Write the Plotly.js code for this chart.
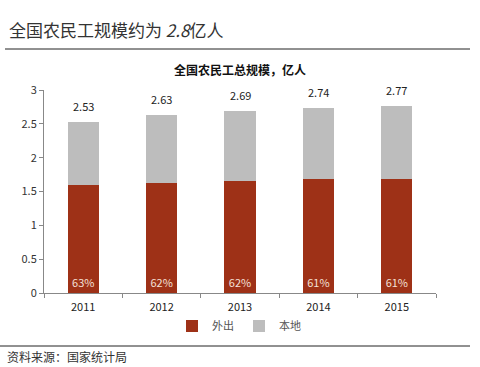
<!DOCTYPE html>
<html><head><meta charset="utf-8">
<script src="https://cdn.plot.ly/plotly-3.0.1.min.js"></script>
<style>html,body{margin:0;padding:0;background:#fff;}#c{width:480px;height:367px;}</style>
</head><body><div id="c"></div>
<script>
const years = ['2011','2012','2013','2014','2015'];
const outgoing = [1.59, 1.63, 1.66, 1.68, 1.69];
const local = [0.94, 1.00, 1.03, 1.06, 1.08];
const totals = ['2.53','2.63','2.69','2.74','2.77'];
const shares = ['63%','62%','62%','61%','61%'];
const FONT = '"Noto Sans CJK SC", "Noto Sans", sans-serif';
const W = 480, H = 367, L = 44, R = 44, T = 90, B = 74;
const pw = W - L - R, ph = H - T - B;
const px = x => (x - L) / pw;
const py = y => (H - B - y) / ph;

const traces = [
  {type:'bar', name:'外出', x:years, y:outgoing, marker:{color:'#9e3117'},
   text:shares, textposition:'inside', insidetextanchor:'start',
   textfont:{color:'#f4e0d8', size:11, family:FONT}, hoverinfo:'none'},
  {type:'bar', name:'本地', x:years, y:local, marker:{color:'#bdbdbd'}, hoverinfo:'none'}
];
const annotations = years.map((yr,i)=>({
  x: i, y: outgoing[i] + local[i], xref:'x', yref:'y', text: totals[i],
  showarrow:false, yshift:16, font:{size:11, color:'#222', family:FONT}
}));
annotations.push(
  {xref:'paper', yref:'paper', x:px(7), y:py(30), xanchor:'left', yanchor:'middle',
   text:'全国农民工规模约为 <i>2.8</i>亿人', showarrow:false, font:{size:17, color:'#333', family:FONT}},
  {xref:'paper', yref:'paper', x:px(240), y:py(70), xanchor:'center', yanchor:'middle',
   text:'<b>全国农民工总规模，亿人</b>', showarrow:false, font:{size:12, color:'#111', family:FONT}},
  {xref:'paper', yref:'paper', x:px(5), y:py(356), xanchor:'left', yanchor:'middle',
   text:'资料来源：国家统计局', showarrow:false, font:{size:12, color:'#333', family:FONT}}
);
const layout = {
  width:W, height:H, margin:{l:L, r:R, t:T, b:B},
  paper_bgcolor:'#fff', plot_bgcolor:'#fff',
  barmode:'stack', bargap:0.6, showlegend:true,
  font:{family:FONT, size:11, color:'#333'},
  legend:{orientation:'h', x:px(172), y:py(326), xanchor:'left', yanchor:'middle',
          font:{size:11, color:'#555'}, traceorder:'normal'},
  xaxis:{type:'category', range:[-0.5, 4.5], autorange:false, showline:true, linecolor:'#888', ticks:'outside', ticklen:4,
         tickcolor:'#888', tickson:'boundaries', showgrid:false, ticklabelstandoff:4, tickfont:{size:11, color:'#222'}},
  yaxis:{range:[0,3], autorange:false, dtick:0.5, showline:true, linecolor:'#888', ticks:'outside', ticklen:4,
         tickcolor:'#888', showgrid:false, zeroline:false, tickfont:{size:11, color:'#333'}},
  annotations: annotations,
  shapes:[
    {type:'line', xref:'paper', yref:'paper', x0:px(5), x1:px(470), y0:py(49), y1:py(49), line:{color:'#222', width:1}},
    {type:'line', xref:'paper', yref:'paper', x0:px(0), x1:px(470), y0:py(346), y1:py(346), line:{color:'#222', width:1}}
  ]
};
Plotly.newPlot('c', traces, layout, {displayModeBar:false, staticPlot:true});
</script></body></html>
